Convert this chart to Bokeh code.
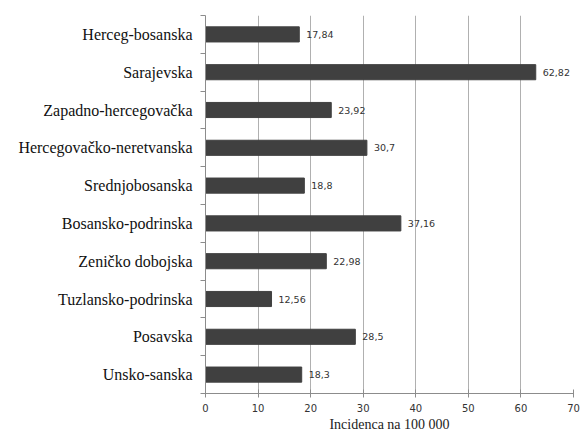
from bokeh.plotting import figure
from bokeh.models import ColumnDataSource, LinearAxis, FixedTicker, Range1d, LabelSet, Grid
from bokeh.core.properties import value
from bokeh.embed import file_html
from bokeh.resources import INLINE

# Data (top to bottom as in the chart)
categories = ["Herceg-bosanska", "Sarajevska", "Zapadno-hercegovačka",
              "Hercegovačko-neretvanska", "Srednjobosanska", "Bosansko-podrinska",
              "Zeničko dobojska", "Tuzlansko-podrinska", "Posavska", "Unsko-sanska"]
values = [17.84, 62.82, 23.92, 30.7, 18.8, 37.16, 22.98, 12.56, 28.5, 18.3]
value_labels = ["17,84", "62,82", "23,92", "30,7", "18,8", "37,16", "22,98", "12,56", "28,5", "18,3"]
x_ticks = [0, 10, 20, 30, 40, 50, 60, 70]
x_title = "Incidenca na 100 000"

SERIF = "Liberation Serif"
SANS = "DejaVu Sans"

n = len(categories)
ypos = [n - 1 - i + 0.5 for i in range(n)]
boundaries = [float(i) for i in range(n + 1)]

src = ColumnDataSource(dict(y=ypos, v=values, lab=value_labels))

p = figure(width=580, height=434, output_backend="svg", toolbar_location=None,
           x_range=Range1d(0, 70), y_range=Range1d(0, n),
           x_axis_location=None, y_axis_location=None,
           min_border_left=205, min_border_right=7, min_border_top=15, min_border_bottom=41)
p.outline_line_color = None
p.background_fill_color = "white"
p.border_fill_color = "white"
p.xgrid.visible = False
p.ygrid.visible = False

g = Grid(dimension=0, ticker=FixedTicker(ticks=x_ticks), grid_line_color="#b0b0b0", grid_line_width=1)
p.add_layout(g)

p.hbar(y="y", right="v", left=0, height=0.4, source=src,
       fill_color="#404040", line_color="#404040")

labels = LabelSet(x="v", y="y", text="lab", source=src, x_offset=7, y_offset=0,
                  text_baseline="middle", text_align="left",
                  text_font=value(SANS), text_font_size="9.5px", text_color="#333333")
p.add_layout(labels)

# x axis
xaxis = LinearAxis(ticker=FixedTicker(ticks=x_ticks), axis_label=x_title)
xaxis.axis_line_color = "#8c8c8c"
xaxis.major_tick_line_color = "#8c8c8c"
xaxis.major_tick_in = 4
xaxis.major_tick_out = 4
xaxis.minor_tick_line_color = None
xaxis.major_label_text_font = SANS
xaxis.major_label_text_font_size = "10px"
xaxis.major_label_text_color = "#333333"
xaxis.major_label_standoff = 6
xaxis.axis_label_text_font = SERIF
xaxis.axis_label_text_font_style = "normal"
xaxis.axis_label_text_font_size = "14px"
xaxis.axis_label_text_color = "#222222"
xaxis.axis_label_standoff = 2
p.add_layout(xaxis, "below")

# y axis: labels at category centers, ticks at category boundaries
yaxis = LinearAxis(ticker=FixedTicker(ticks=ypos, minor_ticks=boundaries))
yaxis.major_label_overrides = {y: c for y, c in zip(ypos, categories)}
yaxis.major_tick_line_color = None
yaxis.major_tick_out = 0
yaxis.major_tick_in = 0
yaxis.minor_tick_line_color = "#8c8c8c"
yaxis.minor_tick_out = 5
yaxis.minor_tick_in = 0
yaxis.axis_line_color = "#8c8c8c"
yaxis.major_label_text_font = SERIF
yaxis.major_label_text_font_size = "16px"
yaxis.major_label_text_color = "#111111"
yaxis.major_label_standoff = 8
p.add_layout(yaxis, "left")

open("out.html", "w").write(file_html(p, INLINE))
